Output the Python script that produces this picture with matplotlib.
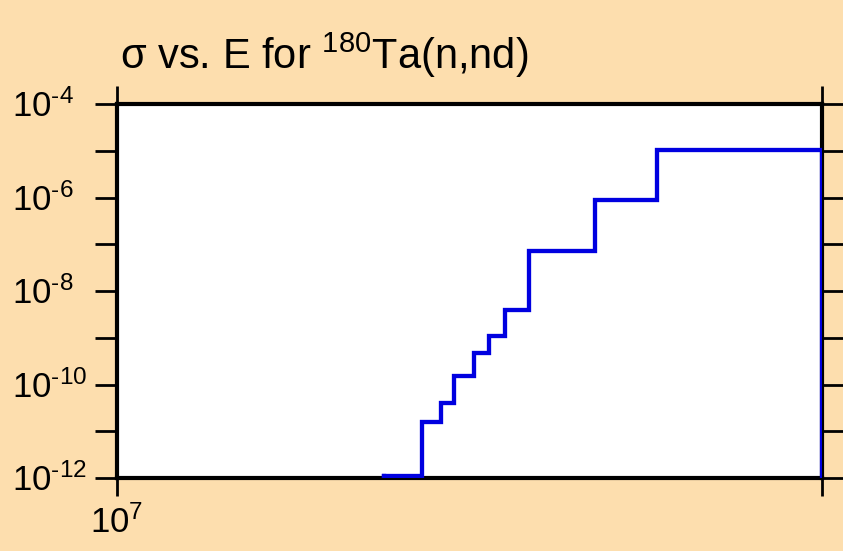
import numpy as np
import matplotlib
matplotlib.use('Agg')
import matplotlib.pyplot as plt
from matplotlib.ticker import FixedLocator, NullFormatter, FuncFormatter

# cross section steps (energy in eV, sigma in barns)
energy = [1.3e7, 1.35e7, 1.375e7, 1.393e7, 1.42e7, 1.441e7, 1.464e7, 1.5e7, 1.6e7, 1.7e7, 2.0e7]
sigma = [1.1e-12, 1.6e-11, 4.0e-11, 1.5e-10, 4.7e-10, 1.1e-9, 3.9e-9, 7.3e-8, 8.9e-7, 1.05e-5, 1e-14]
y_ticks = [1e-12, 1e-11, 1e-10, 1e-9, 1e-8, 1e-7, 1e-6, 1e-5, 1e-4]
y_labels = [-12, -10, -8, -6, -4]

bg = '#fddeae'
plt.rcParams['font.family'] = ['Liberation Sans', 'DejaVu Sans']
plt.rcParams['mathtext.fontset'] = 'custom'
plt.rcParams['mathtext.rm'] = 'Liberation Sans'
plt.rcParams['mathtext.it'] = 'Liberation Sans'

fig = plt.figure(figsize=(8.43, 5.51), dpi=100, facecolor=bg)
ax = fig.add_axes([117/843, 1-478/551, 705/843, 374/551])
ax.set_facecolor('white')

# leading drop into the first bin
ax.plot([energy[0], energy[0]], [1e-14, sigma[0]], color='#0000e0', lw=3.1)
ax.step(energy, sigma, where='post', color='#0000e0', lw=3.1, solid_joinstyle='miter')

ax.set_xscale('log')
ax.set_yscale('log')
ax.set_xlim(1e7, 2e7)
ax.set_ylim(1e-12, 1e-4)

for s in ax.spines.values():
    s.set_linewidth(3)
    s.set_zorder(1)

ax.xaxis.set_major_locator(FixedLocator([1e7, 2e7]))
ax.xaxis.set_minor_locator(FixedLocator([]))
ax.xaxis.set_major_formatter(FuncFormatter(lambda v, p: r'$10^{7}$' if v == 1e7 else ''))
ax.xaxis.set_minor_formatter(NullFormatter())

ax.yaxis.set_major_locator(FixedLocator(y_ticks))
ax.yaxis.set_minor_locator(FixedLocator([]))

ax.tick_params(axis='y', which='major', direction='out', length=16, width=2,
               right=True, labelleft=False, colors='black')
ax.tick_params(axis='x', which='major', direction='out', length=13, width=2,
               top=True, labelsize=25, pad=7, colors='black')

# decade labels, left aligned in a column
for e in y_labels:
    ax.annotate(r'$10^{\text{-}%d}$' % abs(e), xy=(0, 10.0**e),
                xycoords=ax.get_yaxis_transform(), xytext=(-105, -13),
                textcoords='offset pixels', ha='left', va='baseline',
                fontsize=25, annotation_clip=False)

fig.text(120/843, 1-69/551, r'σ vs. E for $^{180}$Ta(n,nd)', fontsize=30,
         ha='left', va='baseline')

fig.savefig('out.png', dpi=100, facecolor=bg)
